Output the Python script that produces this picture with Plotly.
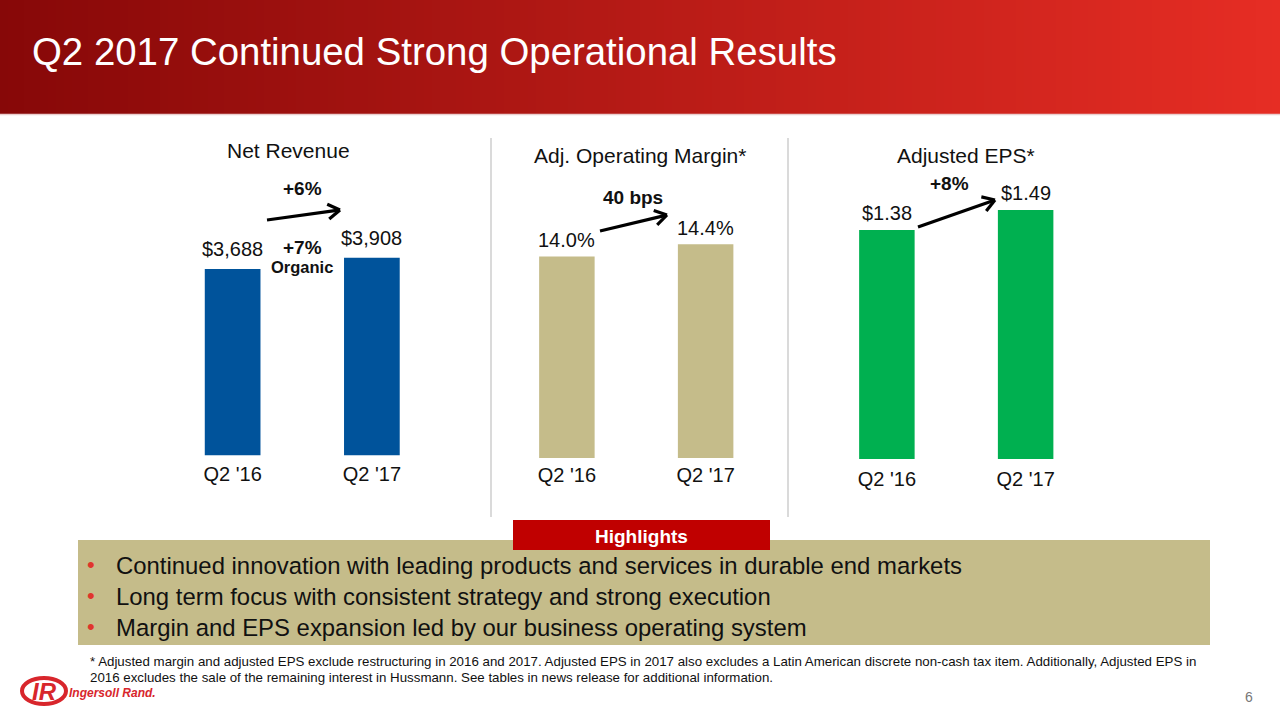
import math
import plotly.graph_objects as go

W, H = 1280, 720

# ---------------- data ----------------
periods = ["Q2 '16", "Q2 '17"]
net_revenue = [3688, 3908]
op_margin = [14.0, 14.4]
adj_eps = [1.38, 1.49]

panel_titles = ["Net Revenue", "Adj. Operating Margin*", "Adjusted EPS*"]
growth_labels = ["+6%", "40 bps", "+8%"]
organic_growth = "+7%"
organic_word = "Organic"

slide_title = "Q2 2017 Continued Strong Operational Results"
highlight_title = "Highlights"
highlight_items = [
    "Continued innovation with leading products and services in durable end markets",
    "Long term focus with consistent strategy and strong execution",
    "Margin and EPS expansion led by our business operating system",
]
footnote_lines = [
    "* Adjusted margin and adjusted EPS exclude restructuring in 2016 and 2017. Adjusted EPS in 2017 also excludes a Latin American discrete non-cash tax item. Additionally, Adjusted EPS in",
    "2016 excludes the sale of the remaining interest in Hussmann. See tables in news release for additional information.",
]
page_number = "6"

# ---------------- style ----------------
FONT = "Liberation Sans, Arial, Helvetica, sans-serif"
BLUE = "#00539B"
TAN = "#C5BC8A"
GREEN = "#00B050"
RED = "#C00000"
LOGO_RED = "#D8262C"


def px(x):
    return x / W


def py(y):
    return 1 - y / H


fig = go.Figure()
annotations = []
shapes = []

bar_specs = [
    (net_revenue, BLUE, "${:,}", "x", "y", 20),
    (op_margin, TAN, "{:.1f}%", "x2", "y2", 16.5),
    (adj_eps, GREEN, "${:.2f}", "x3", "y3", 16.5),
]
for vals, col, fmt, xa, ya, shift in bar_specs:
    fig.add_trace(go.Bar(
        x=periods, y=vals, marker=dict(color=col, line=dict(width=0)),
        xaxis=xa, yaxis=ya, showlegend=False, hoverinfo="skip",
    ))
    for p, v in zip(periods, vals):
        annotations.append(dict(text=fmt.format(v), x=p, y=v, xref=xa, yref=ya,
                                xanchor="center", yanchor="middle", yshift=shift,
                                showarrow=False,
                                font=dict(family=FONT, size=20, color="#111111")))

# header gradient band
n_strips = 160
c0 = (135, 8, 8)
c1 = (230, 45, 36)
for i in range(n_strips):
    t = i / (n_strips - 1)
    c = tuple(int(round(c0[k] + (c1[k] - c0[k]) * t)) for k in range(3))
    shapes.append(dict(type="rect", xref="paper", yref="paper", layer="below",
                       x0=px(i * W / n_strips), x1=px((i + 1) * W / n_strips + 0.6),
                       y0=py(114), y1=py(0), line=dict(width=0),
                       fillcolor="rgb(%d,%d,%d)" % c))
shapes.append(dict(type="line", xref="paper", yref="paper", x0=0, x1=1,
                   y0=py(114.5), y1=py(114.5), line=dict(color="#EBCFCF", width=1.5)))

annotations.append(dict(text=slide_title, x=px(30), y=py(52), xref="paper", yref="paper",
                        xanchor="left", yanchor="middle", showarrow=False,
                        font=dict(family=FONT, size=38.4, color="white")))

# separators
for sx in (491, 788):
    shapes.append(dict(type="line", xref="paper", yref="paper", x0=px(sx), x1=px(sx),
                       y0=py(138), y1=py(517), line=dict(color="#DADADA", width=2)))

# panel titles
for t, cx, cy in zip(panel_titles, (288, 640, 966), (150, 155, 155)):
    annotations.append(dict(text=t, x=px(cx), y=py(cy), xref="paper", yref="paper",
                            xanchor="center", yanchor="middle", showarrow=False,
                            font=dict(family=FONT, size=21, color="#111111")))

# growth labels
for t, cx, cy in zip(growth_labels, (302, 633, 949), (189, 197, 183)):
    annotations.append(dict(text="<b>%s</b>" % t, x=px(cx), y=py(cy), xref="paper", yref="paper",
                            xanchor="center", yanchor="middle", showarrow=False,
                            font=dict(family=FONT, size=19, color="#111111")))
annotations.append(dict(text="<b>%s</b>" % organic_growth, x=px(302), y=py(247), xref="paper",
                        yref="paper", xanchor="center", yanchor="middle", showarrow=False,
                        font=dict(family=FONT, size=19, color="#111111")))
annotations.append(dict(text="<b>%s</b>" % organic_word, x=px(302), y=py(267), xref="paper",
                        yref="paper", xanchor="center", yanchor="middle", showarrow=False,
                        font=dict(family=FONT, size=16.5, color="#111111")))


def arrow(x0, y0, x1, y1, head=14, ang=32):
    a = math.atan2(y1 - y0, x1 - x0)
    shapes.append(dict(type="line", xref="paper", yref="paper", x0=px(x0), y0=py(y0),
                       x1=px(x1 - 1.5 * math.cos(a)), y1=py(y1 - 1.5 * math.sin(a)),
                       line=dict(color="black", width=3.2)))
    for s in (1, -1):
        b = a + math.pi + s * math.radians(ang)
        shapes.append(dict(type="line", xref="paper", yref="paper", x0=px(x1), y0=py(y1),
                           x1=px(x1 + head * math.cos(b)), y1=py(y1 + head * math.sin(b)),
                           line=dict(color="black", width=3.2)))


arrow(267, 220, 340, 210)
arrow(600, 231, 667, 215)
arrow(918, 227, 995, 200)

# highlights box
shapes.append(dict(type="rect", xref="paper", yref="paper", x0=px(78), x1=px(1210),
                   y0=py(645), y1=py(540), line=dict(width=0), fillcolor=TAN))
shapes.append(dict(type="rect", xref="paper", yref="paper", x0=px(513), x1=px(770),
                   y0=py(550), y1=py(520), line=dict(width=0), fillcolor=RED))
annotations.append(dict(text="<b>%s</b>" % highlight_title, x=px(641), y=py(536), xref="paper",
                        yref="paper", xanchor="center", yanchor="middle", showarrow=False,
                        font=dict(family=FONT, size=19, color="white")))
for i, item in enumerate(highlight_items):
    yy = 565 + 31 * i
    annotations.append(dict(text="•", x=px(91), y=py(yy - 1), xref="paper", yref="paper",
                            xanchor="center", yanchor="middle", showarrow=False,
                            font=dict(family=FONT, size=22, color="#E0352C")))
    annotations.append(dict(text=item, x=px(114), y=py(yy), xref="paper", yref="paper",
                            xanchor="left", yanchor="middle", showarrow=False,
                            font=dict(family=FONT, size=23.9, color="#111111")))

# footnote
for i, line in enumerate(footnote_lines):
    annotations.append(dict(text=line, x=px(88), y=py(661 + 16 * i), xref="paper", yref="paper",
                            xanchor="left", yanchor="middle", showarrow=False,
                            font=dict(family=FONT, size=13.3, color="#111111")))

# logo
shapes.append(dict(type="circle", xref="paper", yref="paper", x0=px(22), x1=px(66),
                   y0=py(704), y1=py(678), line=dict(color=LOGO_RED, width=4)))
annotations.append(dict(text="<b><i>IR</i></b>", x=px(44), y=py(691), xref="paper", yref="paper",
                        xanchor="center", yanchor="middle", showarrow=False,
                        font=dict(family=FONT, size=24, color=LOGO_RED)))
annotations.append(dict(text="<b><i>Ingersoll Rand.</i></b>", x=px(67), y=py(693), xref="paper",
                        yref="paper", xanchor="left", yanchor="middle", showarrow=False,
                        font=dict(family=FONT, size=12, color=LOGO_RED)))

annotations.append(dict(text=page_number, x=px(1249), y=py(697), xref="paper", yref="paper",
                        xanchor="center", yanchor="middle", showarrow=False,
                        font=dict(family=FONT, size=14, color="#777777")))

xcommon = dict(showgrid=False, zeroline=False, showline=False, ticks="",
               tickfont=dict(family=FONT, size=20, color="#111111"), fixedrange=True)
ycommon = dict(showgrid=False, zeroline=False, showline=False, showticklabels=False,
               ticks="", fixedrange=True)

fig.update_layout(
    width=W, height=H, margin=dict(l=0, r=0, t=0, b=0),
    paper_bgcolor="white", plot_bgcolor="white",
    bargap=0.6, showlegend=False,
    font=dict(family=FONT),
    xaxis=dict(domain=[px(163), px(441.5)], anchor="y", ticklabelstandoff=4, **xcommon),
    yaxis=dict(domain=[py(455.6), py(140)], range=[0, 6237], anchor="x", **ycommon),
    xaxis2=dict(domain=[px(497.5), px(775)], anchor="y2", ticklabelstandoff=3, **xcommon),
    yaxis2=dict(domain=[py(458), py(140)], range=[7.506, 17.76], anchor="x2", **ycommon),
    xaxis3=dict(domain=[px(817.5), px(1095)], anchor="y3", ticklabelstandoff=6, **xcommon),
    yaxis3=dict(domain=[py(459), py(140)], range=[0.1204, 1.875], anchor="x3", **ycommon),
    shapes=shapes, annotations=annotations,
)

fig.write_html("out.html", config={"displayModeBar": False},
               post_script="document.body.style.margin='0';document.body.style.overflow='hidden';")
